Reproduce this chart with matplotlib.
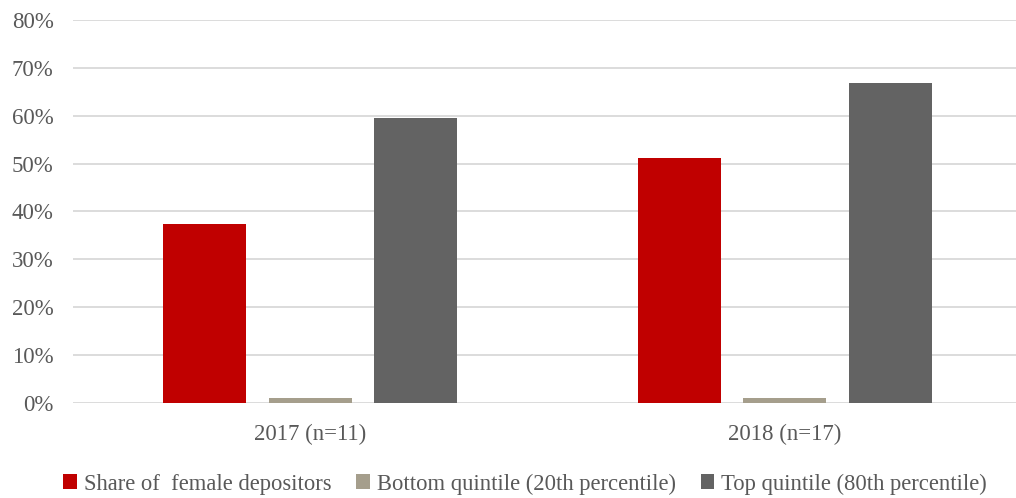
import matplotlib
matplotlib.use("Agg")
import matplotlib.pyplot as plt
import numpy as np
from matplotlib.ticker import FuncFormatter

categories = ["2017 (n=11)", "2018 (n=17)"]
series_names = ["Share of  female depositors", "Bottom quintile (20th percentile)", "Top quintile (80th percentile)"]
share_female = [37.4, 51.2]
bottom_quintile = [1.0, 1.0]
top_quintile = [59.5, 66.8]
colors = ["#C00000", "#A59E8C", "#636363"]

plt.rcParams['font.family'] = ['Liberation Serif', 'DejaVu Serif']
text_color = "#595959"

fig = plt.figure(figsize=(10.16, 4.98), dpi=100)
ax = fig.add_axes([73/1016, 1 - 402.7/498, (1016-73)/1016, (402.7-20)/498])

x = np.arange(len(categories))
offset = 0.222
width = 0.175
for i, (vals, name) in enumerate(zip([share_female, bottom_quintile, top_quintile], series_names)):
    ax.bar(x + (i - 1) * offset, vals, width, color=colors[i], label=name, zorder=3)

ax.set_ylim(0, 80)
ax.set_xlim(-0.5, 1.487)
ax.set_yticks(np.arange(0, 81, 10))
ax.yaxis.set_major_formatter(FuncFormatter(lambda v, p: f"{int(v)}%"))
ax.grid(axis='y', color="#D9D9D9", linewidth=1.3, zorder=0)
ax.set_xticks(x)
ax.set_xticklabels(categories)
for s in ax.spines.values():
    s.set_visible(False)
ax.tick_params(axis='y', length=0, labelsize=16.5, colors=text_color, pad=14)
ax.tick_params(axis='x', length=0, labelsize=16.5, colors=text_color, pad=15)

leg = fig.legend(loc='center', bbox_to_anchor=(525/1016, 1 - 484/498), ncol=3, frameon=False,
                 fontsize=16.3, handlelength=0.6, handleheight=0.6, handletextpad=0.3,
                 columnspacing=1.1, labelcolor=text_color)

fig.savefig("out.png", dpi=100)
